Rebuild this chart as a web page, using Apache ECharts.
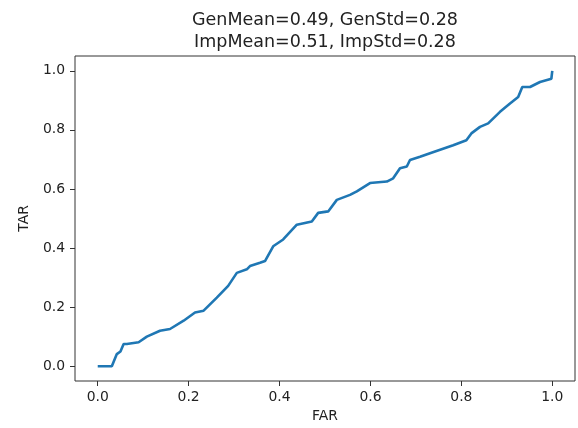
<!DOCTYPE html>
<html>
<head>
<meta charset="utf-8">
<script src="https://cdn.jsdelivr.net/npm/echarts@6/dist/echarts.min.js"></script>
<style>
html,body{margin:0;padding:0;background:#fff;}
#c{width:578px;height:428px;}
</style>
</head>
<body>
<div id="c"></div>
<script>
var titleLines = ['GenMean=0.49, GenStd=0.28', 'ImpMean=0.51, ImpStd=0.28'];
var xName = 'FAR';
var yName = 'TAR';
var tickValues = [0, 0.2, 0.4, 0.6, 0.8, 1.0];
var far = [0, 0.031, 0.042, 0.050, 0.057, 0.064, 0.090, 0.108, 0.137, 0.159, 0.189, 0.214, 0.233, 0.262, 0.287, 0.306, 0.328, 0.335, 0.357, 0.368, 0.386, 0.408, 0.438, 0.471, 0.485, 0.507, 0.526, 0.555, 0.570, 0.599, 0.636, 0.650, 0.665, 0.680, 0.687, 0.709, 0.731, 0.782, 0.811, 0.822, 0.841, 0.859, 0.885, 0.907, 0.925, 0.934, 0.951, 0.973, 0.998, 1.0];
var tar = [0, 0, 0.041, 0.050, 0.075, 0.075, 0.081, 0.100, 0.120, 0.126, 0.154, 0.182, 0.188, 0.232, 0.272, 0.316, 0.328, 0.339, 0.350, 0.356, 0.406, 0.429, 0.479, 0.490, 0.519, 0.524, 0.563, 0.580, 0.592, 0.620, 0.625, 0.636, 0.670, 0.676, 0.698, 0.709, 0.721, 0.748, 0.765, 0.788, 0.810, 0.822, 0.861, 0.889, 0.911, 0.945, 0.945, 0.962, 0.973, 1.0];

var pts = far.map(function (f, i) { return [f, tar[i]]; });
var FONT = 'DejaVu Sans';
var TXT = '#222';

var chart = echarts.init(document.getElementById('c'), null, {renderer: 'canvas'});
function axisCommon(name, isY) {
  return {
    type: 'value',
    min: -0.05, max: 1.05,
    position: isY ? 'left' : 'bottom',
    name: name,
    nameLocation: 'middle',
    nameGap: isY ? 51 : 35,
    nameRotate: isY ? 90 : 0,
    nameTextStyle: {fontFamily: FONT, fontSize: 13.9, color: TXT, verticalAlign: 'middle'},
    axisLine: {show: false, onZero: false},
    splitLine: {show: false},
    axisTick: {show: true, inside: false, length: 5, lineStyle: {color: '#333', width: 1}, customValues: tickValues},
    axisLabel: {
      show: true, margin: isY ? 10 : 9, fontFamily: FONT, fontSize: 13.9, color: TXT,
      customValues: tickValues,
      formatter: function (v) { return v.toFixed(1); }
    }
  };
}
chart.setOption({
  animation: false,
  backgroundColor: '#fff',
  grid: {left: 75, right: 3, top: 56, bottom: 44, show: true, borderColor: '#333', borderWidth: 1, backgroundColor: 'transparent'},
  xAxis: axisCommon(xName, false),
  yAxis: axisCommon(yName, true),
  graphic: [
    {type: 'text', x: 325, y: 20.5, style: {text: titleLines[0], font: '17.5px "DejaVu Sans"', fill: TXT, textAlign: 'center', textVerticalAlign: 'middle'}},
    {type: 'text', x: 325, y: 42, style: {text: titleLines[1], font: '17.5px "DejaVu Sans"', fill: TXT, textAlign: 'center', textVerticalAlign: 'middle'}}
  ],
  series: [{
    type: 'line',
    data: pts,
    showSymbol: false,
    symbol: 'none',
    lineStyle: {color: '#1f77b4', width: 2.6},
    clip: false
  }]
});
</script>
</body>
</html>
